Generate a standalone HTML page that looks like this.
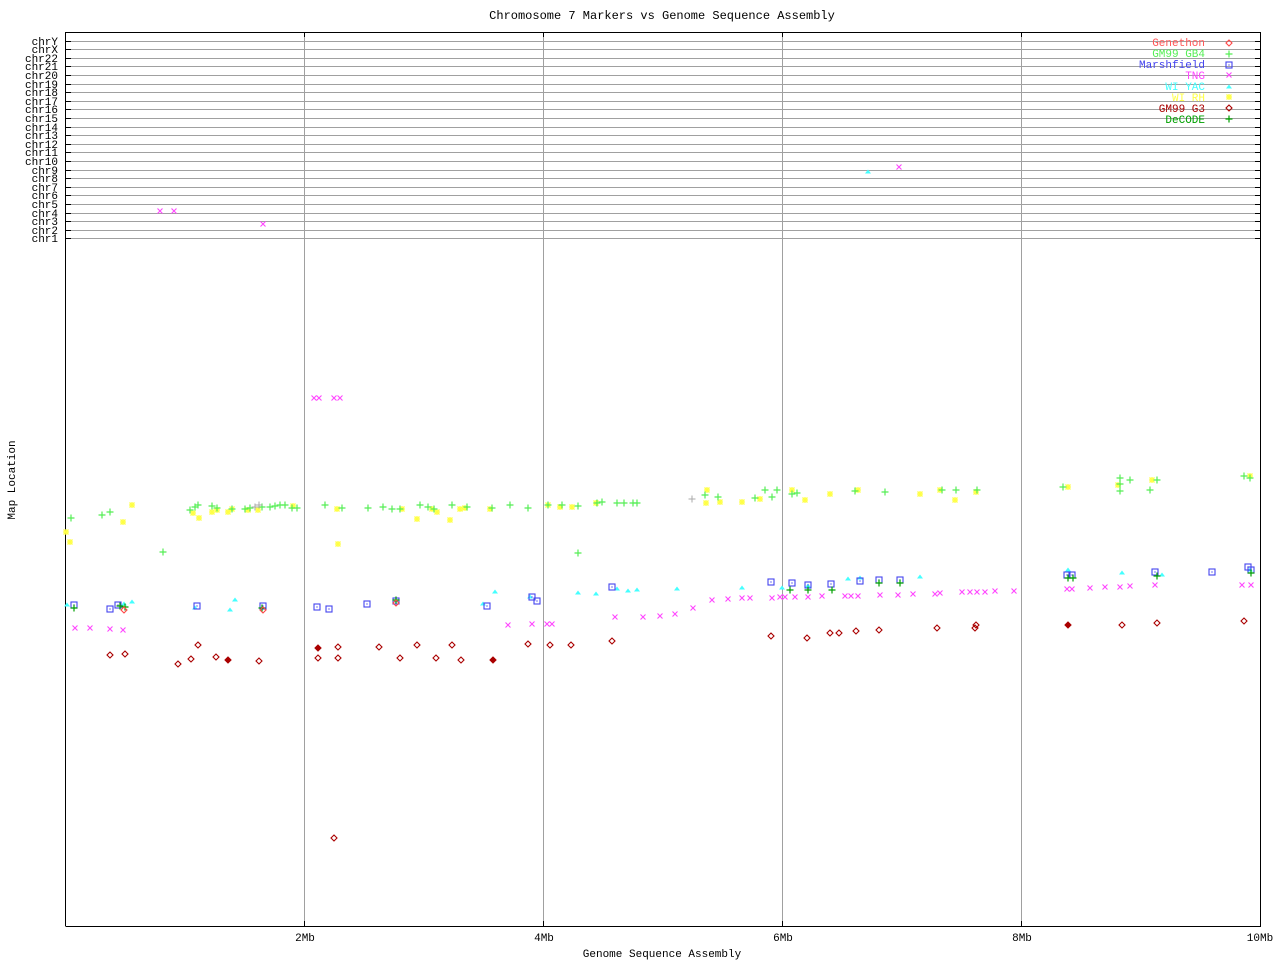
<!DOCTYPE html>
<html><head><meta charset="utf-8"><style>
html,body{margin:0;padding:0;background:#fff;}
svg{display:block;}
text{font-family:"Liberation Mono",monospace;}
</style></head><body>
<svg width="1280" height="960" viewBox="0 0 1280 960" xmlns="http://www.w3.org/2000/svg" xmlns:xlink="http://www.w3.org/1999/xlink">
<defs>
<g id="gp"><path d="M-3.5 0H3.5M0 -3.5V3.5" stroke="#55ee55" stroke-width="1.2"/></g>
<g id="dp"><path d="M-3.5 0H3.5M0 -3.5V3.5" stroke="#00a000" stroke-width="1.2"/></g>
<g id="yp"><path d="M-3 0H3M0 -3V3M-2.5 -2.5L2.5 2.5M-2.5 2.5L2.5 -2.5" stroke="#ffff44" stroke-width="1.3"/></g>
<g id="bs"><rect x="-3" y="-3" width="6" height="6" fill="none" stroke="#4444ee" stroke-width="1.1"/><rect x="-0.6" y="-0.6" width="1.2" height="1.2" fill="#4444ee"/></g>
<g id="mx"><path d="M-2.5 -2.5L2.5 2.5M-2.5 2.5L2.5 -2.5" stroke="#ff44ff" stroke-width="1.1"/></g>
<g id="ct"><path d="M-3 1.5L0 -2.5L3 1.5Z" fill="#44ffff"/></g>
<g id="rd"><path d="M0 -3L3 0L0 3L-3 0Z" fill="none" stroke="#aa0000" stroke-width="1.1"/></g>
<g id="ld"><path d="M0 -3L3 0L0 3L-3 0Z" fill="none" stroke="#ff4444" stroke-width="1.1"/></g>
</defs>
<rect width="1280" height="960" fill="#fff"/>
<text x="662" y="19" font-size="12" text-anchor="middle">Chromosome 7 Markers vs Genome Sequence Assembly</text>
<g stroke="#a0a0a0" stroke-width="1" fill="none">
<path d="M304.5 32V926M543.5 32V926M782.5 32V926M1021.5 32V926"/>
<path d="M66 41.5H1260M66 49.5H1260M66 58.5H1260M66 66.5H1260M66 75.5H1260M66 84.5H1260M66 92.5H1260M66 101.5H1260M66 109.5H1260M66 118.5H1260M66 127.5H1260M66 135.5H1260M66 144.5H1260M66 152.5H1260M66 161.5H1260M66 170.5H1260M66 178.5H1260M66 187.5H1260M66 195.5H1260M66 204.5H1260M66 213.5H1260M66 221.5H1260M66 230.5H1260M66 238.5H1260"/>
</g>
<g stroke="#000" stroke-width="1" fill="none">
<path d="M65.5 926V32.5H1260.5V926.5H65.5"/>
<path d="M66 41.5H71M66 49.5H71M66 58.5H71M66 66.5H71M66 75.5H71M66 84.5H71M66 92.5H71M66 101.5H71M66 109.5H71M66 118.5H71M66 127.5H71M66 135.5H71M66 144.5H71M66 152.5H71M66 161.5H71M66 170.5H71M66 178.5H71M66 187.5H71M66 195.5H71M66 204.5H71M66 213.5H71M66 221.5H71M66 230.5H71M66 238.5H71"/>
<path d="M1255 41.5H1260M1255 49.5H1260M1255 58.5H1260M1255 66.5H1260M1255 75.5H1260M1255 84.5H1260M1255 92.5H1260M1255 101.5H1260M1255 109.5H1260M1255 118.5H1260M1255 127.5H1260M1255 135.5H1260M1255 144.5H1260M1255 152.5H1260M1255 161.5H1260M1255 170.5H1260M1255 178.5H1260M1255 187.5H1260M1255 195.5H1260M1255 204.5H1260M1255 213.5H1260M1255 221.5H1260M1255 230.5H1260M1255 238.5H1260"/>
<path d="M304.5 32V37M543.5 32V37M782.5 32V37M1021.5 32V37M304.5 921V926M543.5 921V926M782.5 921V926M1021.5 921V926"/>
</g>
<g font-size="11" text-anchor="end">
<text x="58" y="45">chrY</text><text x="58" y="53">chrX</text><text x="58" y="62">chr22</text><text x="58" y="70">chr21</text><text x="58" y="79">chr20</text><text x="58" y="88">chr19</text><text x="58" y="96">chr18</text><text x="58" y="105">chr17</text><text x="58" y="113">chr16</text><text x="58" y="122">chr15</text><text x="58" y="131">chr14</text><text x="58" y="139">chr13</text><text x="58" y="148">chr12</text><text x="58" y="156">chr11</text><text x="58" y="165">chr10</text><text x="58" y="174">chr9</text><text x="58" y="182">chr8</text><text x="58" y="191">chr7</text><text x="58" y="199">chr6</text><text x="58" y="208">chr5</text><text x="58" y="217">chr4</text><text x="58" y="225">chr3</text><text x="58" y="234">chr2</text><text x="58" y="242">chr1</text>
</g>
<g font-size="11" text-anchor="middle">
<text x="305" y="941">2Mb</text><text x="544" y="941">4Mb</text><text x="783" y="941">6Mb</text><text x="1022" y="941">8Mb</text><text x="1260" y="941">10Mb</text>
<text x="662" y="957">Genome Sequence Assembly</text>
<text transform="translate(15,480) rotate(-90)">Map Location</text>
</g>
<g font-size="11" text-anchor="end">
<text x="1205" y="46" fill="#ff5555">Genethon</text>
<text x="1205" y="57" fill="#55ee55">GM99 GB4</text>
<text x="1205" y="68" fill="#4444ee">Marshfield</text>
<text x="1205" y="79" fill="#ff44ff">TNG</text>
<text x="1205" y="90" fill="#44ffff">WI YAC</text>
<text x="1205" y="101" fill="#ffff44">WI RH</text>
<text x="1205" y="112" fill="#aa0000">GM99 G3</text>
<text x="1205" y="123" fill="#00a000">DeCODE</text>
</g>
<use href="#ld" x="1229" y="43"/><use href="#gp" x="1229" y="54"/><use href="#bs" x="1229" y="65"/><use href="#mx" x="1229" y="75"/><use href="#ct" x="1229" y="87"/><use href="#yp" x="1229" y="97"/><use href="#rd" x="1229" y="108"/><use href="#dp" x="1229" y="119"/>
<g>
<use href="#yp" x="66" y="532"/><use href="#yp" x="70" y="542"/><use href="#yp" x="123" y="522"/><use href="#yp" x="132" y="505"/><use href="#yp" x="193" y="513"/><use href="#yp" x="199" y="518"/><use href="#yp" x="212" y="512"/><use href="#yp" x="217" y="510"/><use href="#yp" x="228" y="512"/><use href="#yp" x="232" y="509"/><use href="#yp" x="248" y="510"/><use href="#yp" x="258" y="510"/><use href="#yp" x="293" y="506"/><use href="#yp" x="338" y="544"/><use href="#yp" x="337" y="509"/><use href="#yp" x="402" y="509"/><use href="#yp" x="417" y="519"/><use href="#yp" x="432" y="509"/><use href="#yp" x="437" y="512"/><use href="#yp" x="450" y="520"/><use href="#yp" x="460" y="509"/><use href="#yp" x="465" y="508"/><use href="#yp" x="490" y="509"/><use href="#yp" x="548" y="505"/><use href="#yp" x="560" y="507"/><use href="#yp" x="572" y="507"/><use href="#yp" x="596" y="503"/><use href="#yp" x="707" y="490"/><use href="#yp" x="706" y="503"/><use href="#yp" x="720" y="502"/><use href="#yp" x="742" y="502"/><use href="#yp" x="760" y="499"/><use href="#yp" x="792" y="490"/><use href="#yp" x="805" y="500"/><use href="#yp" x="830" y="494"/><use href="#yp" x="858" y="490"/><use href="#yp" x="920" y="494"/><use href="#yp" x="940" y="490"/><use href="#yp" x="955" y="500"/><use href="#yp" x="976" y="492"/><use href="#yp" x="1068" y="487"/><use href="#yp" x="1118" y="485"/><use href="#yp" x="1152" y="480"/><use href="#yp" x="1250" y="476"/>
</g>
<g>
<use href="#gp" x="71" y="518"/><use href="#gp" x="102" y="515"/><use href="#gp" x="110" y="512"/><use href="#gp" x="163" y="552"/><use href="#gp" x="190" y="510"/><use href="#gp" x="195" y="507"/><use href="#gp" x="198" y="505"/><use href="#gp" x="212" y="506"/><use href="#gp" x="217" y="508"/><use href="#gp" x="232" y="509"/><use href="#gp" x="245" y="509"/><use href="#gp" x="250" y="508"/><use href="#gp" x="262" y="507"/><use href="#gp" x="270" y="507"/><use href="#gp" x="275" y="506"/><use href="#gp" x="280" y="505"/><use href="#gp" x="285" y="505"/><use href="#gp" x="292" y="508"/><use href="#gp" x="297" y="508"/><use href="#gp" x="325" y="505"/><use href="#gp" x="342" y="508"/><use href="#gp" x="368" y="508"/><use href="#gp" x="383" y="507"/><use href="#gp" x="392" y="509"/><use href="#gp" x="400" y="509"/><use href="#gp" x="420" y="505"/><use href="#gp" x="428" y="507"/><use href="#gp" x="434" y="509"/><use href="#gp" x="452" y="505"/><use href="#gp" x="467" y="507"/><use href="#gp" x="492" y="508"/><use href="#gp" x="510" y="505"/><use href="#gp" x="528" y="508"/><use href="#gp" x="548" y="505"/><use href="#gp" x="562" y="505"/><use href="#gp" x="578" y="553"/><use href="#gp" x="578" y="506"/><use href="#gp" x="597" y="503"/><use href="#gp" x="602" y="502"/><use href="#gp" x="617" y="503"/><use href="#gp" x="624" y="503"/><use href="#gp" x="633" y="503"/><use href="#gp" x="637" y="503"/><use href="#gp" x="705" y="495"/><use href="#gp" x="718" y="497"/><use href="#gp" x="755" y="498"/><use href="#gp" x="765" y="490"/><use href="#gp" x="772" y="497"/><use href="#gp" x="777" y="490"/><use href="#gp" x="792" y="494"/><use href="#gp" x="797" y="493"/><use href="#gp" x="855" y="491"/><use href="#gp" x="885" y="492"/><use href="#gp" x="942" y="490"/><use href="#gp" x="956" y="490"/><use href="#gp" x="977" y="490"/><use href="#gp" x="1063" y="487"/><use href="#gp" x="1120" y="478"/><use href="#gp" x="1120" y="484"/><use href="#gp" x="1130" y="480"/><use href="#gp" x="1120" y="491"/><use href="#gp" x="1150" y="490"/><use href="#gp" x="1157" y="480"/><use href="#gp" x="1244" y="476"/><use href="#gp" x="1250" y="478"/>
</g>
<g stroke="#aaa" fill="none"><path d="M692 495.5v7M688.5 499h7M255 503.5v7M251.5 507h7M259 501.5v7M255.5 505h7" stroke-width="1"/></g>
<g>
<use href="#ct" x="67" y="605"/><use href="#ct" x="124" y="604"/><use href="#ct" x="132" y="602"/><use href="#ct" x="195" y="608"/><use href="#ct" x="230" y="610"/><use href="#ct" x="235" y="600"/><use href="#ct" x="396" y="601"/><use href="#ct" x="483" y="604"/><use href="#ct" x="495" y="592"/><use href="#ct" x="530" y="597"/><use href="#ct" x="578" y="593"/><use href="#ct" x="596" y="594"/><use href="#ct" x="617" y="589"/><use href="#ct" x="628" y="591"/><use href="#ct" x="637" y="590"/><use href="#ct" x="677" y="589"/><use href="#ct" x="742" y="588"/><use href="#ct" x="782" y="588"/><use href="#ct" x="808" y="586"/><use href="#ct" x="848" y="579"/><use href="#ct" x="860" y="578"/><use href="#ct" x="920" y="577"/><use href="#ct" x="1068" y="570"/><use href="#ct" x="1122" y="573"/><use href="#ct" x="1162" y="575"/><use href="#ct" x="1250" y="570"/><use href="#ct" x="868" y="172"/>
</g>
<g>
<use href="#mx" x="75" y="628"/><use href="#mx" x="90" y="628"/><use href="#mx" x="110" y="629"/><use href="#mx" x="123" y="630"/><use href="#mx" x="160" y="211"/><use href="#mx" x="174" y="211"/><use href="#mx" x="263" y="224"/><use href="#mx" x="314" y="398"/><use href="#mx" x="319" y="398"/><use href="#mx" x="334" y="398"/><use href="#mx" x="340" y="398"/><use href="#mx" x="508" y="625"/><use href="#mx" x="532" y="624"/><use href="#mx" x="547" y="624"/><use href="#mx" x="552" y="624"/><use href="#mx" x="615" y="617"/><use href="#mx" x="643" y="617"/><use href="#mx" x="660" y="616"/><use href="#mx" x="675" y="614"/><use href="#mx" x="693" y="608"/><use href="#mx" x="712" y="600"/><use href="#mx" x="728" y="599"/><use href="#mx" x="742" y="598"/><use href="#mx" x="750" y="598"/><use href="#mx" x="772" y="598"/><use href="#mx" x="780" y="597"/><use href="#mx" x="785" y="597"/><use href="#mx" x="795" y="597"/><use href="#mx" x="808" y="597"/><use href="#mx" x="822" y="596"/><use href="#mx" x="845" y="596"/><use href="#mx" x="851" y="596"/><use href="#mx" x="858" y="596"/><use href="#mx" x="880" y="595"/><use href="#mx" x="898" y="595"/><use href="#mx" x="913" y="594"/><use href="#mx" x="935" y="594"/><use href="#mx" x="940" y="593"/><use href="#mx" x="962" y="592"/><use href="#mx" x="970" y="592"/><use href="#mx" x="977" y="592"/><use href="#mx" x="985" y="592"/><use href="#mx" x="995" y="591"/><use href="#mx" x="1014" y="591"/><use href="#mx" x="1067" y="589"/><use href="#mx" x="1072" y="589"/><use href="#mx" x="1090" y="588"/><use href="#mx" x="1105" y="587"/><use href="#mx" x="1120" y="587"/><use href="#mx" x="1130" y="586"/><use href="#mx" x="1155" y="585"/><use href="#mx" x="1242" y="585"/><use href="#mx" x="1251" y="585"/><use href="#mx" x="899" y="167"/>
</g>
<g>
<use href="#bs" x="74" y="605"/><use href="#bs" x="110" y="609"/><use href="#bs" x="118" y="605"/><use href="#bs" x="197" y="606"/><use href="#bs" x="263" y="606"/><use href="#bs" x="317" y="607"/><use href="#bs" x="329" y="609"/><use href="#bs" x="367" y="604"/><use href="#bs" x="396" y="601"/><use href="#bs" x="487" y="606"/><use href="#bs" x="532" y="597"/><use href="#bs" x="537" y="601"/><use href="#bs" x="612" y="587"/><use href="#bs" x="771" y="582"/><use href="#bs" x="792" y="583"/><use href="#bs" x="808" y="585"/><use href="#bs" x="831" y="584"/><use href="#bs" x="860" y="581"/><use href="#bs" x="879" y="580"/><use href="#bs" x="900" y="580"/><use href="#bs" x="1067" y="575"/><use href="#bs" x="1072" y="575"/><use href="#bs" x="1155" y="572"/><use href="#bs" x="1212" y="572"/><use href="#bs" x="1248" y="567"/><use href="#bs" x="1251" y="570"/>
</g>
<g>
<use href="#dp" x="74" y="608"/><use href="#dp" x="120" y="606"/><use href="#dp" x="125" y="607"/><use href="#dp" x="262" y="608"/><use href="#dp" x="396" y="600"/><use href="#dp" x="790" y="590"/><use href="#dp" x="808" y="590"/><use href="#dp" x="832" y="590"/><use href="#dp" x="879" y="583"/><use href="#dp" x="900" y="583"/><use href="#dp" x="1068" y="578"/><use href="#dp" x="1073" y="578"/><use href="#dp" x="1157" y="576"/><use href="#dp" x="1251" y="573"/>
</g>
<g>
<use href="#rd" x="110" y="655"/><use href="#rd" x="125" y="654"/><use href="#rd" x="178" y="664"/><use href="#rd" x="191" y="659"/><use href="#rd" x="198" y="645"/><use href="#rd" x="216" y="657"/><use href="#rd" x="228" y="660"/><use href="#rd" x="259" y="661"/><use href="#rd" x="318" y="648"/><use href="#rd" x="318" y="658"/><use href="#rd" x="338" y="658"/><use href="#rd" x="338" y="647"/><use href="#rd" x="334" y="838"/><use href="#rd" x="379" y="647"/><use href="#rd" x="400" y="658"/><use href="#rd" x="417" y="645"/><use href="#rd" x="436" y="658"/><use href="#rd" x="452" y="645"/><use href="#rd" x="461" y="660"/><use href="#rd" x="493" y="660"/><use href="#rd" x="528" y="644"/><use href="#rd" x="550" y="645"/><use href="#rd" x="571" y="645"/><use href="#rd" x="612" y="641"/><use href="#rd" x="771" y="636"/><use href="#rd" x="807" y="638"/><use href="#rd" x="830" y="633"/><use href="#rd" x="839" y="633"/><use href="#rd" x="856" y="631"/><use href="#rd" x="879" y="630"/><use href="#rd" x="937" y="628"/><use href="#rd" x="975" y="628"/><use href="#rd" x="976" y="625"/><use href="#rd" x="1068" y="625"/><use href="#rd" x="1122" y="625"/><use href="#rd" x="1157" y="623"/><use href="#rd" x="1244" y="621"/>
<use href="#ld" x="124" y="610"/><use href="#ld" x="263" y="610"/><use href="#ld" x="396" y="603"/>
</g>
<g fill="#aa0000"><circle cx="228" cy="660" r="2.5"/><circle cx="318" cy="648" r="2.5"/><circle cx="493" cy="660" r="2.5"/><circle cx="1068" cy="625" r="2.5"/></g>
</svg>
</body></html>
